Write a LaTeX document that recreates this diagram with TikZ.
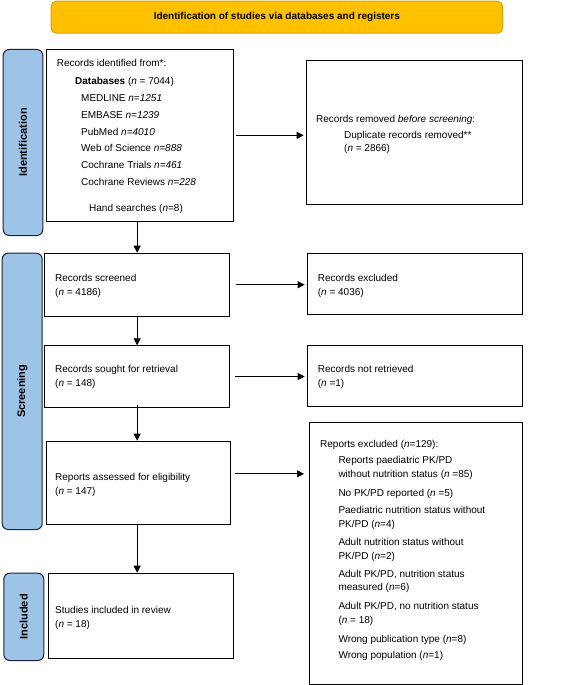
\documentclass[tikz,border=0pt]{standalone}
\usepackage{fontspec}
\setmainfont{Liberation Sans}
\usetikzlibrary{arrows.meta}
\definecolor{bannergold}{HTML}{FFC000}
\definecolor{bannerline}{HTML}{D9A400}
\definecolor{sideblue}{HTML}{9DC3E6}
\definecolor{sideline}{HTML}{1C2233}
\begin{document}
\begin{tikzpicture}[x=1pt,y=-1pt,
  font=\fontsize{10}{14}\selectfont,
  box/.style={draw=black, line width=1pt, inner sep=0pt, anchor=north west},
  side/.style={draw=sideline, fill=sideblue, rounded corners=6pt, line width=1pt, inner sep=0pt, anchor=north west},
  sidetext/.style={rotate=90, font=\fontsize{11}{13}\selectfont\bfseries, inner sep=0pt},
  banner/.style={draw=bannerline, fill=bannergold, rounded corners=5pt, line width=1pt, inner sep=0pt, anchor=north west},
  txt/.style={anchor=base west, inner sep=0pt},
  arr/.style={-{Triangle[length=7pt,width=7pt]}, line width=0.8pt}]
\useasboundingbox (0,0) rectangle (587,685);

% banner
\node[banner, minimum width=451.3pt, minimum height=32pt] (ban) at (50.7,0.7) {};
\node[font=\fontsize{10}{12}\selectfont\bfseries, inner sep=0pt] (bantxt) at (ban.center) {Identification of studies via databases and registers};

% side labels
\node[side, minimum width=39.6pt, minimum height=186pt] (sideid) at (2.7,49) {};
\node[sidetext] (sideidtxt) at (sideid.center) {Identification};
\node[side, minimum width=40pt, minimum height=276.3pt] (sidesc) at (1.7,252.7) {};
\node[sidetext] (sidesctxt) at (sidesc.center) {Screening};
\node[side, minimum width=40pt, minimum height=87.3pt] (sidein) at (3.3,572.7) {};
\node[sidetext] (sideintxt) at (sidein.center) {Included};

% boxes
\node[box, minimum width=187.6pt, minimum height=171.7pt] (ident) at (45.7,49) {};
\node[box, minimum width=216pt, minimum height=144.3pt] (removed) at (305.7,60) {};
\node[box, minimum width=184.7pt, minimum height=63pt] (screened) at (44.3,252.7) {};
\node[box, minimum width=215pt, minimum height=60.7pt] (excluded) at (306.7,253.3) {};
\node[box, minimum width=184.7pt, minimum height=61.4pt] (sought) at (44.3,345.3) {};
\node[box, minimum width=215pt, minimum height=61pt] (notret) at (306.7,344.7) {};
\node[box, minimum width=184.3pt, minimum height=83.6pt] (assessed) at (45.7,440.7) {};
\node[box, minimum width=212.7pt, minimum height=262.6pt] (repexcl) at (309,421.7) {};
\node[box, minimum width=185pt, minimum height=85.6pt] (included) at (48.3,572.7) {};

% identification text
\node[txt] (i1) at (56.7,66.8) {Records identified from*:};
\node[txt] (i2) at (75,84.5) {\textbf{Databases} (\textit{n} = 7044)};
\node[txt] (i3) at (81,101.8) {MEDLINE \textit{n=1251}};
\node[txt] (i4) at (81,118.5) {EMBASE \textit{n=1239}};
\node[txt] (i5) at (81,135.2) {PubMed \textit{n=4010}};
\node[txt] (i6) at (81,151.8) {Web of Science \textit{n=888}};
\node[txt] (i7) at (81,168.5) {Cochrane Trials \textit{n=461}};
\node[txt] (i8) at (81,185.8) {Cochrane Reviews \textit{n=228}};
\node[txt] (i9) at (89,211.8) {Hand searches (\textit{n}=8)};

% removed text
\node[txt] (r1) at (316,122.8) {Records removed \textit{before screening}:};
\node[txt] (r2) at (344,138.8) {Duplicate records removed**};
\node[txt] (r3) at (344,151.8) {(\textit{n} = 2866)};

% screened / excluded
\node[txt] (s1) at (55,281.2) {Records screened};
\node[txt] (s2) at (55,295.2) {(\textit{n} = 4186)};
\node[txt] (e1) at (317.7,281.2) {Records excluded};
\node[txt] (e2) at (317.7,295.2) {(\textit{n} = 4036)};

% sought / not retrieved
\node[txt] (so1) at (55,372.5) {Records sought for retrieval};
\node[txt] (so2) at (55,386.5) {(\textit{n} = 148)};
\node[txt] (nr1) at (317.7,372.5) {Records not retrieved};
\node[txt] (nr2) at (317.7,386.5) {(\textit{n} =1)};

% assessed
\node[txt] (a1) at (55,480.2) {Reports assessed for eligibility};
\node[txt] (a2) at (55,494.2) {(\textit{n} = 147)};

% reports excluded
\node[txt] (x0) at (320,447.5) {Reports excluded (\textit{n}=129):};
\node[txt] (x1) at (338.3,463.8) {Reports paediatric PK/PD};
\node[txt] (x2) at (338.3,477.8) {without nutrition status (\textit{n} =85)};
\node[txt] (x3) at (338.3,496.2) {No PK/PD reported (\textit{n} =5)};
\node[txt] (x4) at (338.3,513.5) {Paediatric nutrition status without};
\node[txt] (x5) at (338.3,527.2) {PK/PD (\textit{n}=4)};
\node[txt] (x6) at (338.3,545.2) {Adult nutrition status without};
\node[txt] (x7) at (338.3,559.2) {PK/PD (\textit{n}=2)};
\node[txt] (x8) at (338.3,577.5) {Adult PK/PD, nutrition status};
\node[txt] (x9) at (338.3,590.8) {measured (\textit{n}=6)};
\node[txt] (x10) at (338.3,609.5) {Adult PK/PD, no nutrition status};
\node[txt] (x11) at (338.3,623.5) {(\textit{n} = 18)};
\node[txt] (x12) at (338.3,642.2) {Wrong publication type (\textit{n}=8)};
\node[txt] (x13) at (338.3,658.5) {Wrong population (\textit{n}=1)};

% included
\node[txt] (in1) at (55,613.5) {Studies included in review};
\node[txt] (in2) at (55,627.5) {(\textit{n} = 18)};

% connectors
\draw[arr] ([xshift=2pt]ident.east) -- ([xshift=-2pt]ident.east -| removed.west);
\draw[arr] (ident.south -| screened.north) -- (screened.north);
\draw[arr] ([xshift=6pt]screened.east) -- ([xshift=-2pt]screened.east -| excluded.west);
\draw[arr] (screened.south) -- (screened.south |- sought.north);
\draw[arr] ([xshift=4.7pt]sought.east) -- ([xshift=-2pt]sought.east -| notret.west);
\draw[arr] ([yshift=2.5pt]sought.south) -- (sought.south |- assessed.north);
\draw[arr] ([xshift=3.7pt,yshift=9.2pt]assessed.east) -- ([xshift=-5pt,yshift=9.2pt]assessed.east -| repexcl.west);
\draw[arr] (assessed.south -| sought.south) -- (sought.south |- included.north);
\end{tikzpicture}
\end{document}
